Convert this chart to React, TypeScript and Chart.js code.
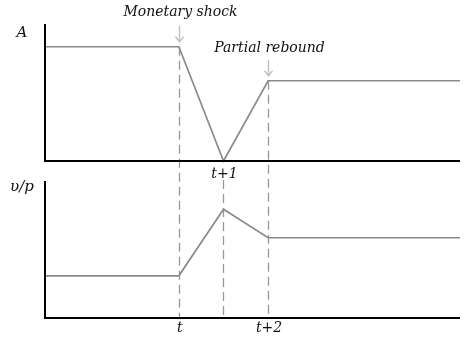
import React, { useEffect, useRef } from "react";
import { Chart, registerables } from "chart.js";

Chart.register(...registerables);

// time positions relative to the shock date t
const timePoints = [-3, 0, 1, 2, 6.3];
// productivity / output panel
const aValues = [0.84, 0.84, 0, 0.59, 0.59];
// money velocity / price panel
const vpValues = [0.31, 0.31, 0.8, 0.59, 0.59];
// event markers on the time axis
const eventTimes = [0, 1, 2];
const eventLabels = ["t", "t+1", "t+2"];
// annotations with arrows
const noteTimes = [0, 2];
const noteTexts = ["Monetary shock", "Partial rebound"];
const panelTitles = ["A", "υ/p"];

const W = 467;
const H = 341;
const PAD = { left: 45, right: 7, top: 25, bottom: 23 };
const PANEL_H = 136;
const GAP = 21;
const AREA_H = PANEL_H * 2 + GAP;

const FONT = "italic 14px 'DejaVu Serif', serif";

export default function App() {
  const ref = useRef<HTMLCanvasElement | null>(null);

  useEffect(() => {
    const canvas = ref.current;
    if (!canvas) return;

    const valueAt = (arr: number[], t: number) => {
      const i = timePoints.indexOf(t);
      return arr[i];
    };

    const overlay = {
      id: "overlay",
      beforeDatasetsDraw(chart: any) {
        const ctx = chart.ctx;
        const x = chart.scales.x;
        const yt = chart.scales.yTop;
        const yb = chart.scales.yBot;
        ctx.save();
        ctx.strokeStyle = "#999999";
        ctx.lineWidth = 1.3;
        ctx.setLineDash([9, 5]);
        eventTimes.forEach((t) => {
          const px = Math.round(x.getPixelForValue(t)) + 0.5;
          const a = valueAt(aValues, t);
          const start = a > 0 ? yt.getPixelForValue(a) : yb.getPixelForValue(1) - 2;
          ctx.beginPath();
          ctx.moveTo(px, start);
          ctx.lineTo(px, yb.getPixelForValue(0));
          ctx.stroke();
        });
        ctx.restore();
      },
      afterDatasetsDraw(chart: any) {
        const ctx = chart.ctx;
        const x = chart.scales.x;
        const yt = chart.scales.yTop;
        const yb = chart.scales.yBot;
        const { left, right } = chart.chartArea;
        ctx.save();
        // axes
        ctx.strokeStyle = "#000";
        ctx.lineWidth = 2;
        ctx.setLineDash([]);
        [yt, yb].forEach((s: any) => {
          ctx.beginPath();
          ctx.moveTo(left, s.getPixelForValue(1) - 1);
          ctx.lineTo(left, s.getPixelForValue(0));
          ctx.lineTo(right, s.getPixelForValue(0));
          ctx.stroke();
        });

        // arrows and annotation text
        ctx.font = FONT;
        ctx.textAlign = "center";
        ctx.textBaseline = "middle";
        noteTimes.forEach((t, i) => {
          const px = Math.round(x.getPixelForValue(t)) + 0.5;
          const py = yt.getPixelForValue(valueAt(aValues, t));
          ctx.strokeStyle = "#c0c0c0";
          ctx.lineWidth = 1.4;
          ctx.beginPath();
          ctx.moveTo(px, py - 21);
          ctx.lineTo(px, py - 5);
          ctx.moveTo(px - 4, py - 10);
          ctx.lineTo(px, py - 5);
          ctx.lineTo(px + 4, py - 10);
          ctx.stroke();
          ctx.fillStyle = "#111";
          ctx.fillText(noteTexts[i], px + (i === 1 ? 1 : 1), py - (i === 1 ? 32 : 34));
        });

        // time labels
        ctx.fillStyle = "#111";
        eventTimes.forEach((t, i) => {
          const px = x.getPixelForValue(t) + 1;
          const a = valueAt(aValues, t);
          const ly = a > 0 ? yb.getPixelForValue(0) + 10 : yt.getPixelForValue(0) + 13;
          ctx.fillText(eventLabels[i], px, ly);
        });

        // panel titles
        ctx.font = "italic 15px 'DejaVu Serif', serif";
        ctx.fillText(panelTitles[0], left - 23, yt.getPixelForValue(1) + 8);
        ctx.fillText(panelTitles[1], left - 23, yb.getPixelForValue(1) + 5);
        ctx.restore();
      },
    };

    const topMin = 1 - AREA_H / PANEL_H;
    const botMax = AREA_H / PANEL_H;

    const chart = new Chart(canvas, {
      type: "line",
      data: {
        datasets: [
          {
            label: panelTitles[0],
            data: timePoints.map((t, i) => ({ x: t, y: aValues[i] })),
            yAxisID: "yTop",
            borderColor: "#8a8a8a",
            borderWidth: 1.7,
            pointRadius: 0,
            tension: 0,
          },
          {
            label: panelTitles[1],
            data: timePoints.map((t, i) => ({ x: t, y: vpValues[i] })),
            yAxisID: "yBot",
            borderColor: "#8a8a8a",
            borderWidth: 1.7,
            pointRadius: 0,
            tension: 0,
          },
        ],
      },
      options: {
        responsive: false,
        animation: false,
        devicePixelRatio: 1,
        layout: { padding: PAD },
        plugins: { legend: { display: false }, tooltip: { enabled: false } },
        scales: {
          x: { type: "linear", display: false, min: -3, max: 6.3 },
          yTop: { type: "linear", display: false, min: topMin, max: 1 },
          yBot: { type: "linear", display: false, min: 0, max: botMax },
        },
      },
      plugins: [overlay],
    });
    return () => chart.destroy();
  }, []);

  return (
    <div style={{ position: "fixed", left: 0, top: 0, width: W, height: H, background: "#fff" }}>
      <canvas ref={ref} width={W} height={H} />
    </div>
  );
}
